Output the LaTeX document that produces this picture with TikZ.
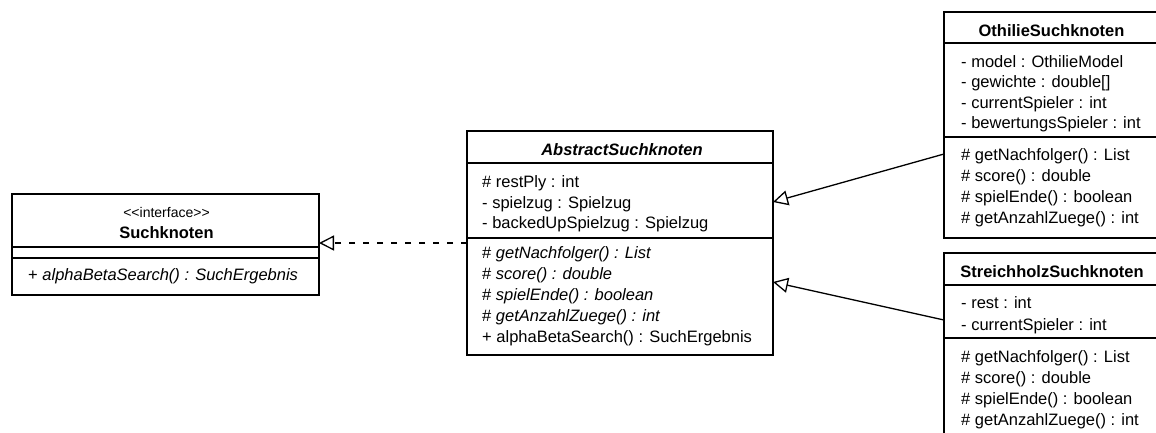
\documentclass[tikz,border=0pt]{standalone}
\usepackage{fontspec}
\setmainfont{Liberation Sans}
\usetikzlibrary{arrows.meta}

\tikzset{
  classbox/.style={draw, rectangle, line width=2.7pt, inner sep=0pt, outer sep=0pt},
  member/.style={anchor=base west, inner sep=0pt, font=\fontsize{16.5}{20}\selectfont},
  classname/.style={anchor=base, inner sep=0pt, font=\fontsize{16.5}{20}\selectfont\bfseries},
  stereo/.style={anchor=base, inner sep=0pt, font=\fontsize{14}{18}\selectfont},
  divider/.style={line width=1.2pt},
  realizes/.style={line width=1.3pt, dash pattern=on 6pt off 8pt, -{Triangle[open,length=15pt,width=15pt]}},
  extends/.style={line width=1.3pt, -{Triangle[open,length=15pt,width=15pt]}}
}

\begin{document}
\begin{tikzpicture}[x=1pt,y=-1pt]
\clip (0,0) rectangle (1156,432) ;
\fill[white] (0,0) rectangle (1156,432) ;

% interface
\node[classbox, minimum width=307pt, minimum height=101pt] (such) at (165.5,244.5) {} ;
\node[stereo] (such-st) at (166.5,217.5) {<{}<interface>{}>} ;
\node[classname] (such-name) at (166.5,238.5) {Suchknoten} ;
\draw[divider] (such.west |- 0,247) -- (such.east |- 0,247) ;
\draw[divider] (such.west |- 0,258) -- (such.east |- 0,258) ;
\node[member] (such-m1) at (28,280.5) {+ \textit{alphaBetaSearch() : SuchErgebnis}} ;

% abstract class
\node[classbox, minimum width=306pt, minimum height=224pt] (abstract) at (620,243) {} ;
\node[classname] (abstract-name) at (622,155) {\itshape AbstractSuchknoten} ;
\draw[divider] (abstract.west |- 0,163) -- (abstract.east |- 0,163) ;
\draw[divider] (abstract.west |- 0,238) -- (abstract.east |- 0,238) ;
\node[member] (abstract-a1) at (482,187.2) {\# restPly : int} ;
\node[member] (abstract-a2) at (482,208.0) {- spielzug : Spielzug} ;
\node[member] (abstract-a3) at (482,228.8) {- backedUpSpielzug : Spielzug} ;
\node[member] (abstract-m1) at (482,258.8) {\# \textit{getNachfolger() : List}} ;
\node[member] (abstract-m2) at (482,279.8) {\# \textit{score() : double}} ;
\node[member] (abstract-m3) at (482,300.8) {\# \textit{spielEnde() : boolean}} ;
\node[member] (abstract-m4) at (482,321.8) {\# \textit{getAnzahlZuege() : int}} ;
\node[member] (abstract-m5) at (482,342.8) {+ alphaBetaSearch() : SuchErgebnis} ;

% othilie
\node[classbox, minimum width=221pt, minimum height=226pt] (othilie) at (1054.5,125) {} ;
\node[classname] (othilie-name) at (1051.5,36.7) {OthilieSuchknoten} ;
\draw[divider] (othilie.west |- 0,43) -- (othilie.east |- 0,43) ;
\draw[divider] (othilie.west |- 0,137) -- (othilie.east |- 0,137) ;
\node[member] (othilie-a1) at (961,67.2) {- model : OthilieModel} ;
\node[member] (othilie-a2) at (961,87.7) {- gewichte : double[]} ;
\node[member] (othilie-a3) at (961,108.2) {- currentSpieler : int} ;
\node[member] (othilie-a4) at (961,128.7) {- bewertungsSpieler : int} ;
\node[member] (othilie-m1) at (961,160.5) {\# getNachfolger() : List} ;
\node[member] (othilie-m2) at (961,181.4) {\# score() : double} ;
\node[member] (othilie-m3) at (961,202.3) {\# spielEnde() : boolean} ;
\node[member] (othilie-m4) at (961,223.2) {\# getAnzahlZuege() : int} ;

% streichholz
\node[classbox, minimum width=221pt, minimum height=187pt] (streich) at (1054.5,346.5) {} ;
\node[classname] (streich-name) at (1052,277.5) {StreichholzSuchknoten} ;
\draw[divider] (streich.west |- 0,285) -- (streich.east |- 0,285) ;
\draw[divider] (streich.west |- 0,338) -- (streich.east |- 0,338) ;
\node[member] (streich-a1) at (961,308.8) {- rest : int} ;
\node[member] (streich-a2) at (961,330.0) {- currentSpieler : int} ;
\node[member] (streich-m1) at (961,362.2) {\# getNachfolger() : List} ;
\node[member] (streich-m2) at (961,383.4) {\# score() : double} ;
\node[member] (streich-m3) at (961,404.6) {\# spielEnde() : boolean} ;
\node[member] (streich-m4) at (961,425.8) {\# getAnzahlZuege() : int} ;

% relations
\draw[realizes] (abstract.west) -- (abstract.west -| such.east) ;
\draw[extends] ([yshift=-29pt]othilie.west) -- ([yshift=41pt]abstract.east) ;
\draw[extends] ([yshift=26.5pt]streich.west) -- ([yshift=-39pt]abstract.east) ;
\end{tikzpicture}
\end{document}
